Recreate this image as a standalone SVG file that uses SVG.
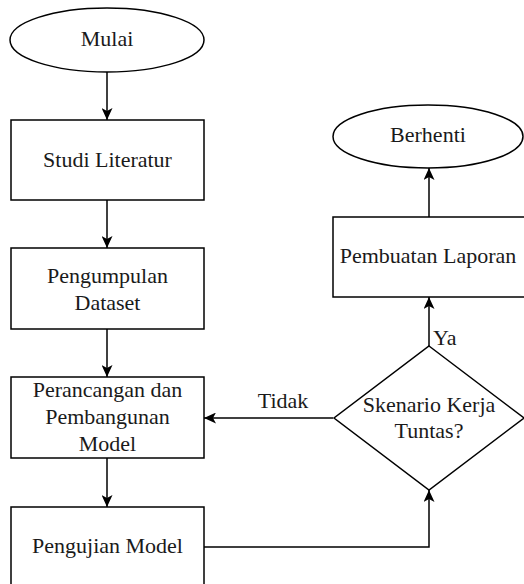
<svg xmlns="http://www.w3.org/2000/svg" width="524" height="584" viewBox="0 0 524 584">
<style>
.shape{fill:#ffffff;stroke:#000000;stroke-width:1.5}
.edge{fill:none;stroke:#000000;stroke-width:1.5}
.t{font-family:'Liberation Serif','Tinos','Times New Roman','DejaVu Serif',serif;font-size:22px;fill:#1a1a1a}
.c{text-anchor:middle}
</style>
<defs>
<marker id="arr" markerUnits="userSpaceOnUse" markerWidth="12" markerHeight="11" refX="12" refY="5.5" orient="auto">
<path d="M0,0 L12,5.5 L0,11 L3,5.5 Z" fill="#000000"/>
</marker>
</defs>
<rect width="524" height="584" fill="#ffffff"/>
<g id="connectors">
<path class="edge" d="M107,72 L107,120" marker-end="url(#arr)"/>
<path class="edge" d="M107,200 L107,248" marker-end="url(#arr)"/>
<path class="edge" d="M107,329 L107,377" marker-end="url(#arr)"/>
<path class="edge" d="M107,458 L107,507" marker-end="url(#arr)"/>
<path class="edge" d="M204,547 L429,547 L429,490" marker-end="url(#arr)"/>
<path class="edge" d="M333,418 L204,418" marker-end="url(#arr)"/>
<path class="edge" d="M429,346 L429,297" marker-end="url(#arr)"/>
<path class="edge" d="M429,217 L429,168" marker-end="url(#arr)"/>
<text class="t c" x="283" y="408" font-family="Liberation Serif, serif">Tidak</text>
<text class="t" x="433" y="345" font-family="Liberation Serif, serif">Ya</text>
</g>
<g id="mulai">
<ellipse class="shape" cx="107" cy="40" rx="97" ry="32"/>
<text class="t c" x="107" y="46" font-family="Liberation Serif, serif">Mulai</text>
</g>
<g id="studi">
<rect class="shape" x="11" y="120" width="193" height="80"/>
<text class="t c" x="107.5" y="167" font-family="Liberation Serif, serif">Studi Literatur</text>
</g>
<g id="pengumpulan">
<rect class="shape" x="11" y="248" width="193" height="81"/>
<text class="t c" x="107.5" y="283" font-family="Liberation Serif, serif">Pengumpulan</text>
<text class="t c" x="107.5" y="310" font-family="Liberation Serif, serif">Dataset</text>
</g>
<g id="perancangan">
<rect class="shape" x="11" y="377" width="193" height="81"/>
<text class="t c" x="107.5" y="397" font-family="Liberation Serif, serif">Perancangan dan</text>
<text class="t c" x="107.5" y="424" font-family="Liberation Serif, serif">Pembangunan</text>
<text class="t c" x="107.5" y="451" font-family="Liberation Serif, serif">Model</text>
</g>
<g id="pengujian">
<rect class="shape" x="11" y="507" width="193" height="80"/>
<text class="t c" x="107.5" y="553" font-family="Liberation Serif, serif">Pengujian Model</text>
</g>
<g id="skenario">
<path class="shape" d="M429,346 L524,418 L429,490 L334,418 Z"/>
<text class="t c" x="429" y="412" font-family="Liberation Serif, serif">Skenario Kerja</text>
<text class="t c" x="429" y="438" font-family="Liberation Serif, serif">Tuntas?</text>
</g>
<g id="pembuatan">
<rect class="shape" x="333" y="217" width="193" height="80"/>
<text class="t c" x="428" y="263" font-family="Liberation Serif, serif">Pembuatan Laporan</text>
</g>
<g id="berhenti">
<ellipse class="shape" cx="428" cy="136.5" rx="95" ry="31.5"/>
<text class="t c" x="428" y="142" font-family="Liberation Serif, serif">Berhenti</text>
</g>
</svg>
